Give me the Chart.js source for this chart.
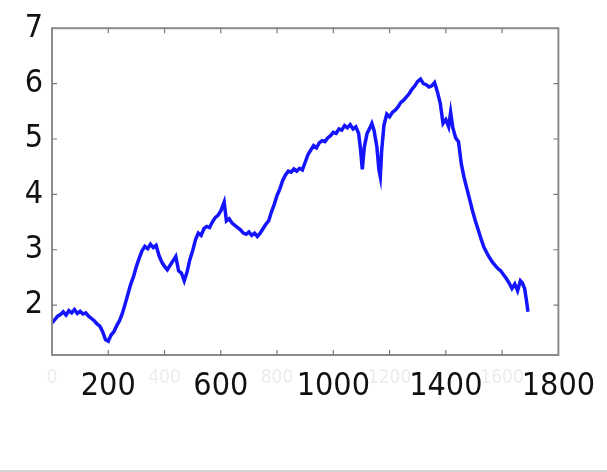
<!DOCTYPE html>
<html>
<head>
<meta charset="utf-8">
<script src="https://cdn.jsdelivr.net/npm/chart.js@4/dist/chart.umd.min.js"></script>
<style>
  html, body { margin: 0; padding: 0; background: #fff; }
  #wrap { width: 607px; height: 470px; border-bottom: 2px solid #d4d4d4; }
  canvas { filter: blur(0.6px); }
</style>
</head>
<body>
<div id="wrap"><canvas id="c" width="607" height="470"></canvas></div>
<script>
// Data
const xValues = [0,10,20,30,40,50,60,70,80,90,100,110,120,130,140,150,160,170,180,190,200,210,220,230,240,250,260,270,280,290,300,310,320,330,340,350,360,370,380,390,400,410,420,430,440,450,460,470,480,490,500,510,520,530,540,550,560,570,580,590,600,612,620,630,640,650,660,670,680,690,700,710,720,730,740,750,760,770,780,790,800,810,820,830,840,850,860,870,880,890,900,910,920,930,940,950,960,970,980,990,1000,1010,1020,1030,1040,1050,1060,1070,1080,1090,1097,1103,1110,1120,1130,1137,1145,1155,1162,1167,1172,1180,1190,1200,1210,1220,1230,1240,1250,1260,1270,1280,1290,1300,1310,1320,1330,1340,1350,1360,1370,1380,1390,1400,1410,1417,1425,1435,1445,1455,1465,1475,1485,1495,1505,1515,1525,1535,1545,1555,1565,1575,1585,1595,1605,1615,1625,1635,1645,1655,1665,1672,1680,1686,1692];
const yValues = [1.68,1.74,1.80,1.83,1.88,1.82,1.90,1.86,1.92,1.85,1.89,1.84,1.86,1.80,1.76,1.72,1.66,1.62,1.52,1.38,1.35,1.46,1.52,1.63,1.72,1.85,2.02,2.20,2.38,2.52,2.70,2.85,2.98,3.06,3.02,3.10,3.04,3.08,2.90,2.78,2.70,2.64,2.72,2.80,2.88,2.62,2.58,2.44,2.60,2.82,2.98,3.18,3.30,3.26,3.38,3.42,3.40,3.50,3.58,3.62,3.70,3.86,3.52,3.56,3.48,3.44,3.40,3.36,3.30,3.28,3.32,3.26,3.30,3.24,3.30,3.38,3.46,3.52,3.68,3.82,3.98,4.10,4.25,4.35,4.42,4.40,4.46,4.42,4.47,4.44,4.58,4.72,4.80,4.88,4.84,4.93,4.97,4.95,5.02,5.06,5.12,5.10,5.18,5.16,5.24,5.20,5.26,5.18,5.22,5.10,4.80,4.45,4.85,5.10,5.20,5.28,5.15,4.85,4.45,4.32,4.80,5.25,5.45,5.40,5.48,5.52,5.58,5.66,5.70,5.76,5.82,5.90,5.96,6.04,6.08,6.00,5.98,5.94,5.96,6.02,5.85,5.65,5.28,5.35,5.22,5.48,5.20,5.02,4.95,4.55,4.30,4.10,3.90,3.70,3.52,3.36,3.20,3.05,2.95,2.86,2.78,2.72,2.66,2.62,2.55,2.48,2.40,2.30,2.38,2.26,2.44,2.40,2.30,2.10,1.88];
const xTicks = [0,200,400,600,800,1000,1200,1400,1600,1800];
const xBoldTicks = [200,600,1000,1400,1800];
const yTicks = [2,3,4,5,6,7];
const innerXTicks = [200,400,600,800,1000,1200,1400,1600];
const innerYTicks = [2,3,4,5,6];

// pick the narrowest installed font among candidates
const candidates = ['Liberation Sans Narrow', 'Noto Sans ExtraCondensed', 'Noto Sans Condensed', 'Noto Sans SemiCondensed', 'DejaVu Sans Condensed', 'Liberation Sans'];
const mctx = document.createElement('canvas').getContext('2d');
function w(font) { mctx.font = font; return mctx.measureText('2001800').width; }
let chosen = 'DejaVu Sans Condensed';
for (const f of candidates) {
  const a = w(`100px '${f}', monospace`), b = w('100px monospace');
  const c = w(`100px '${f}', serif`), d = w('100px serif');
  if (Math.abs(a - b) > 0.5 || Math.abs(c - d) > 0.5) { chosen = f; break; }
}
mctx.font = `100px '${chosen}'`;
const perEm = mctx.measureText('200').width / 100;
const bigSize = Math.min(36, Math.round(55 / perEm));
const FONT = `'${chosen}', sans-serif`;
const isBold = c => !c || !c.tick || xBoldTicks.includes(c.tick.value);

const framePlugin = {
  id: 'frame',
  afterDatasetsDraw(chart) {
    const {ctx, chartArea: a, scales} = chart;
    ctx.save();
    ctx.strokeStyle = '#8c8c8c';
    ctx.lineWidth = 2;
    ctx.strokeRect(a.left, a.top, a.right - a.left, a.bottom - a.top);
    ctx.lineWidth = 1.2;
    ctx.strokeStyle = '#7a7a7a';
    ctx.beginPath();
    innerXTicks.forEach(v => {
      const px = scales.x.getPixelForValue(v);
      ctx.moveTo(px, a.bottom); ctx.lineTo(px, a.bottom - 5);
      ctx.moveTo(px, a.top); ctx.lineTo(px, a.top + 5);
    });
    innerYTicks.forEach(v => {
      const py = scales.y.getPixelForValue(v);
      ctx.moveTo(a.left, py); ctx.lineTo(a.left + 5, py);
      ctx.moveTo(a.right, py); ctx.lineTo(a.right - 5, py);
    });
    ctx.stroke();
    ctx.restore();
  }
};

new Chart(document.getElementById('c'), {
  type: 'line',
  data: {
    datasets: [{
      data: xValues.map((x, i) => ({x: x, y: yValues[i]})),
      borderColor: '#1414ff',
      borderWidth: 3.5,
      pointRadius: 0,
      tension: 0,
      fill: false
    }]
  },
  options: {
    responsive: false,
    animation: false,
    events: [],
    layout: { padding: { left: 0, top: 13, right: 41, bottom: 0 } },
    plugins: { legend: { display: false }, tooltip: { enabled: false } },
    scales: {
      x: {
        type: 'linear', min: 0, max: 1800,
        afterBuildTicks: s => { s.ticks = xTicks.map(v => ({value: v})); },
        afterFit: s => { s.height = 115; },
        grid: { display: false, drawTicks: false },
        border: { display: false },
        ticks: {
          padding: 12,
          maxRotation: 0,
          autoSkip: false,
          color: c => isBold(c) ? '#111' : '#ececec',
          font: c => isBold(c)
            ? { family: FONT, size: bigSize }
            : { family: FONT, size: Math.round(bigSize * 0.6) },
          callback: v => String(v)
        }
      },
      y: {
        type: 'linear', min: 1.1, max: 7,
        afterBuildTicks: s => { s.ticks = yTicks.map(v => ({value: v})); },
        afterFit: s => { s.width = 52; },
        grid: { display: false, drawTicks: false },
        border: { display: false },
        ticks: {
          padding: 9,
          color: '#111',
          font: { family: FONT, size: bigSize },
          callback: v => String(v)
        }
      }
    }
  },
  plugins: [framePlugin]
});
</script>
</body>
</html>
